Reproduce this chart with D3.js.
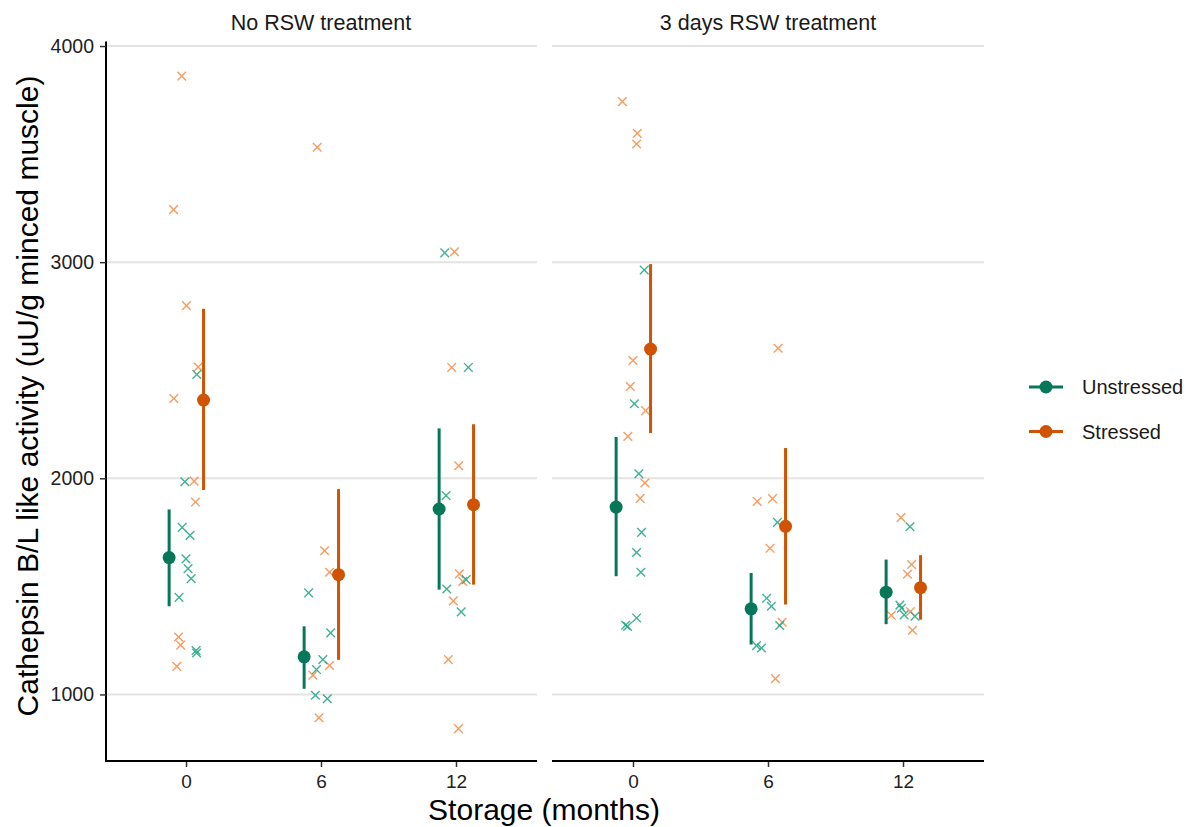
<!DOCTYPE html>
<html>
<head>
<meta charset="utf-8">
<script src="https://cdn.jsdelivr.net/npm/d3@7"></script>
<style>
  body { margin: 0; background: #fff; }
  text { font-family: "Liberation Sans", Arial, sans-serif; }
</style>
</head>
<body>
<script>
// panels, groups, storage times
const panels = ["No RSW treatment", "3 days RSW treatment"];
const groups = ["Unstressed", "Stressed"];
const storage = [0, 6, 12];
const yTicks = [1000, 2000, 3000, 4000];

// individual observations: [panel, storage, group, value, jitter (months)]
const obsNoRSW = [
  [0, 0, 1, 3861, -0.19], [0, 0, 1, 3243, -0.55], [0, 0, 1, 2799, 0.02], [0, 0, 1, 2515, 0.54],
  [0, 0, 1, 2369, -0.54], [0, 0, 1, 1987, 0.36], [0, 0, 1, 1890, 0.42], [0, 0, 1, 1266, -0.33],
  [0, 0, 1, 1228, -0.24], [0, 0, 1, 1130, -0.41],
  [0, 0, 0, 2480, 0.48], [0, 0, 0, 1984, -0.05], [0, 0, 0, 1773, -0.17], [0, 0, 0, 1736, 0.18],
  [0, 0, 0, 1627, 0.0], [0, 0, 0, 1582, 0.09], [0, 0, 0, 1536, 0.23], [0, 0, 0, 1449, -0.31],
  [0, 0, 0, 1203, 0.45], [0, 0, 0, 1192, 0.47],
  [0, 6, 1, 3532, -0.17], [0, 6, 1, 1665, 0.16], [0, 6, 1, 1565, 0.38], [0, 6, 1, 1134, 0.38],
  [0, 6, 1, 1089, -0.36], [0, 6, 1, 892, -0.09],
  [0, 6, 0, 1470, -0.55], [0, 6, 0, 1285, 0.43], [0, 6, 0, 1161, 0.08], [0, 6, 0, 1115, -0.2],
  [0, 6, 0, 996, -0.25], [0, 6, 0, 980, 0.28],
  [0, 12, 1, 3048, -0.07], [0, 12, 1, 2513, -0.19], [0, 12, 1, 2058, 0.12], [0, 12, 1, 1558, 0.15],
  [0, 12, 1, 1523, 0.3], [0, 12, 1, 1433, -0.12], [0, 12, 1, 1161, -0.34], [0, 12, 1, 842, 0.11],
  [0, 12, 0, 3043, -0.5], [0, 12, 0, 2513, 0.55], [0, 12, 0, 1920, -0.44], [0, 12, 0, 1531, 0.45],
  [0, 12, 0, 1488, -0.41], [0, 12, 0, 1382, 0.23]
];
const obsRSW = [
  [1, 0, 1, 3743, -0.47], [1, 0, 1, 3596, 0.19], [1, 0, 1, 3547, 0.16], [1, 0, 1, 2545, 0.0],
  [1, 0, 1, 2425, -0.12], [1, 0, 1, 2313, 0.56], [1, 0, 1, 2194, -0.23], [1, 0, 1, 1978, 0.53],
  [1, 0, 1, 1907, 0.32],
  [1, 0, 0, 2964, 0.5], [1, 0, 0, 2345, 0.06], [1, 0, 0, 2021, 0.26], [1, 0, 0, 1750, 0.38],
  [1, 0, 0, 1657, 0.16], [1, 0, 0, 1565, 0.35], [1, 0, 0, 1354, 0.16], [1, 0, 0, 1320, -0.33],
  [1, 0, 0, 1315, -0.24],
  [1, 6, 1, 2602, 0.45], [1, 6, 1, 1906, 0.2], [1, 6, 1, 1893, -0.48], [1, 6, 1, 1676, 0.09],
  [1, 6, 1, 1334, 0.63], [1, 6, 1, 1073, 0.33],
  [1, 6, 0, 1796, 0.42], [1, 6, 0, 1445, -0.06], [1, 6, 0, 1408, 0.15], [1, 6, 0, 1319, 0.52],
  [1, 6, 0, 1226, -0.51], [1, 6, 0, 1215, -0.29],
  [1, 12, 1, 1818, -0.09], [1, 12, 1, 1601, 0.38], [1, 12, 1, 1556, 0.2], [1, 12, 1, 1383, 0.33],
  [1, 12, 1, 1366, -0.52], [1, 12, 1, 1297, 0.42],
  [1, 12, 0, 1776, 0.31], [1, 12, 0, 1413, -0.14], [1, 12, 0, 1399, -0.07], [1, 12, 0, 1368, 0.05],
  [1, 12, 0, 1362, 0.53]
];

// group estimates: [panel, storage, group, mean, lower, upper]
const means = [
  [0, 0, 0, 1633, 1408, 1856], [0, 0, 1, 2362, 1946, 2784],
  [0, 6, 0, 1174, 1026, 1315], [0, 6, 1, 1554, 1160, 1950],
  [0, 12, 0, 1858, 1485, 2231], [0, 12, 1, 1878, 1508, 2250],
  [1, 0, 0, 1867, 1547, 2191], [1, 0, 1, 2598, 2209, 2991],
  [1, 6, 0, 1396, 1231, 1562], [1, 6, 1, 1778, 1416, 2140],
  [1, 12, 0, 1473, 1325, 1624], [1, 12, 1, 1494, 1346, 1644]
];

const meanColor = ["#067759", "#CF5300"];
const pointColor = ["#22A486", "#F78A45"];
const dodge = [-0.75, 0.78];

const W = 1189, H = 827;
const svg = d3.select("body").append("svg").attr("width", W).attr("height", H);

const panelLeft = [105, 552], panelW = 432;
const plotTop = 41.5, plotBottom = 761;

const y = d3.scaleLinear().domain([692, 4021]).range([plotBottom, plotTop]);
const xs = panelLeft.map(l => d3.scaleLinear().domain([-3.6, 15.6]).range([l, l + panelW]));

panels.forEach((name, p) => {
  const x = xs[p];
  const g = svg.append("g");

  // gridlines
  g.selectAll("line.grid").data(yTicks).enter().append("line")
    .attr("x1", panelLeft[p]).attr("x2", panelLeft[p] + panelW)
    .attr("y1", d => y(d)).attr("y2", d => y(d))
    .attr("stroke", "#e3e3e3").attr("stroke-width", 2);

  // strip title
  g.append("text").attr("x", panelLeft[p] + panelW / 2).attr("y", 30)
    .attr("text-anchor", "middle").attr("font-size", 21.5).attr("fill", "#1a1a1a").text(name);

  // x axis
  const xAxis = g.append("g").attr("transform", `translate(0,${plotBottom})`)
    .call(d3.axisBottom(x).tickValues(storage).tickSize(6).tickPadding(8));
  xAxis.select(".domain").remove();
  xAxis.selectAll(".tick line").attr("stroke", "#333").attr("stroke-width", 1.5);
  xAxis.selectAll(".tick text").attr("font-size", 19).attr("fill", "#222")
    .attr("font-family", "Liberation Sans, Arial, sans-serif");
  g.append("line").attr("x1", panelLeft[p]).attr("x2", panelLeft[p] + panelW)
    .attr("y1", plotBottom).attr("y2", plotBottom).attr("stroke", "#000").attr("stroke-width", 2);

  // jittered observations as crosses
  const obs = (p === 0 ? obsNoRSW : obsRSW);
  const s = 4.3;
  const cross = g.selectAll("g.obs").data(obs).enter().append("g")
    .attr("transform", d => `translate(${x(d[1] + d[4])},${y(d[3])})`)
    .attr("stroke", d => pointColor[d[2]]).attr("stroke-width", 1.4).attr("opacity", 0.85);
  cross.append("line").attr("x1", -s).attr("y1", -s).attr("x2", s).attr("y2", s);
  cross.append("line").attr("x1", -s).attr("y1", s).attr("x2", s).attr("y2", -s);

  // means with intervals
  const m = means.filter(d => d[0] === p);
  g.selectAll("line.ci").data(m).enter().append("line")
    .attr("x1", d => x(d[1] + dodge[d[2]])).attr("x2", d => x(d[1] + dodge[d[2]]))
    .attr("y1", d => y(d[4])).attr("y2", d => y(d[5]))
    .attr("stroke", d => meanColor[d[2]]).attr("stroke-width", 3);
  g.selectAll("circle.mean").data(m).enter().append("circle")
    .attr("cx", d => x(d[1] + dodge[d[2]])).attr("cy", d => y(d[3])).attr("r", 6.5)
    .attr("fill", d => meanColor[d[2]]);
});

// y axis
const yAxis = svg.append("g").attr("transform", `translate(${panelLeft[0] + 1},0)`)
  .call(d3.axisLeft(y).tickValues(yTicks).tickFormat(d3.format("d")).tickSize(6).tickPadding(6));
yAxis.select(".domain").attr("stroke", "#000").attr("stroke-width", 2)
  .attr("d", `M0,${plotTop}V${plotBottom}`);
yAxis.selectAll(".tick line").attr("stroke", "#333").attr("stroke-width", 1.5);
yAxis.selectAll(".tick text").attr("font-size", 19.5).attr("fill", "#222")
  .attr("font-family", "Liberation Sans, Arial, sans-serif");

// axis titles
svg.append("text").attr("x", 544).attr("y", 820).attr("text-anchor", "middle")
  .attr("font-size", 30).attr("fill", "#000").text("Storage (months)");
svg.append("text").attr("transform", "translate(38,396) rotate(-90)")
  .attr("text-anchor", "middle").attr("font-size", 30).attr("fill", "#000")
  .text("Cathepsin B/L like activity (uU/g minced muscle)");

// legend
const legend = svg.append("g").attr("transform", "translate(1029,387)");
groups.forEach((name, i) => {
  const row = legend.append("g").attr("transform", `translate(0,${i * 44.5})`);
  row.append("line").attr("x1", 0).attr("x2", 34).attr("stroke", meanColor[i]).attr("stroke-width", 3);
  row.append("circle").attr("cx", 17).attr("r", 6.5).attr("fill", meanColor[i]);
  row.append("text").attr("x", 53).attr("y", 0).attr("dy", "0.35em")
    .attr("font-size", 20).attr("fill", "#1a1a1a").text(name);
});
</script>
</body>
</html>
